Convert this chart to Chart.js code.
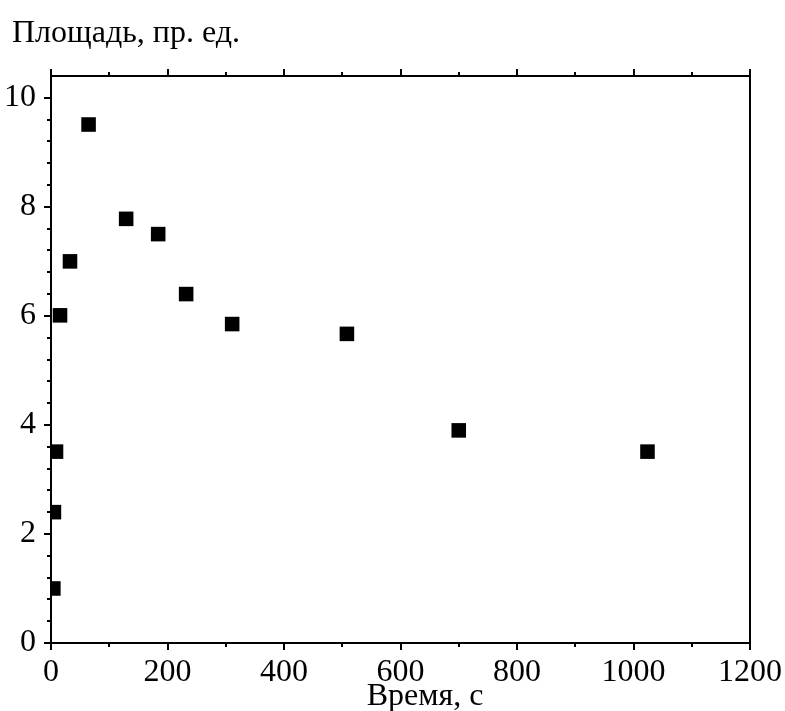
<!DOCTYPE html>
<html><head><meta charset="utf-8">
<script src="https://cdn.jsdelivr.net/npm/chart.js@4/dist/chart.umd.min.js"></script>
<style>html,body{margin:0;padding:0;background:#fff;overflow:hidden}</style>
</head><body>
<canvas id="c" width="785" height="711"></canvas>
<script>
// Data
const timeSec = [4, 5, 8.6, 15.5, 32.6, 64.5, 129, 184, 232, 311, 508, 700, 1024];
const areaVal = [1.0, 2.4, 3.51, 6.01, 7.0, 9.51, 7.78, 7.5, 6.4, 5.85, 5.67, 3.9, 3.51];
const xTickVals = [0, 200, 400, 600, 800, 1000, 1200];
const yTickVals = [0, 2, 4, 6, 8, 10];
const xMinorStep = 100;
const yMinorStep = 0.4;
const yTitle = 'Площадь, пр. ед.';
const xTitle = 'Время, с';

const FONT = '"Liberation Serif", "Times New Roman", serif';

const framePlugin = {
  id: 'frameTicks',
  afterDraw(chart) {
    const {ctx, chartArea: a, scales: {x, y}} = chart;
    ctx.save();
    ctx.strokeStyle = '#000';
    ctx.lineWidth = 2;
    ctx.lineCap = 'butt';
    ctx.beginPath();
    ctx.rect(a.left, a.top, a.right - a.left, a.bottom - a.top);
    for (let v = x.min; v <= x.max + 1e-9; v += xMinorStep) {
      const px = Math.round(x.getPixelForValue(v));
      const major = xTickVals.includes(v);
      const len = major ? 7 : 4;
      ctx.moveTo(px, a.bottom); ctx.lineTo(px, a.bottom + len);
      ctx.moveTo(px, a.top); ctx.lineTo(px, a.top - len);
    }
    for (let i = 0; i * yMinorStep <= 10 + 1e-9; i++) {
      const v = +(i * yMinorStep).toFixed(2);
      const py = Math.round(y.getPixelForValue(v));
      const major = yTickVals.includes(v);
      const len = major ? 7 : 4;
      ctx.moveTo(a.left, py); ctx.lineTo(a.left - len, py);
    }
    ctx.stroke();
    ctx.fillStyle = '#000';
    ctx.font = '32px ' + FONT;
    ctx.textAlign = 'left';
    ctx.textBaseline = 'alphabetic';
    ctx.fillText(yTitle, 12, 42);
    ctx.textAlign = 'center';
    ctx.fillText(xTitle, 425, 705);
    ctx.restore();
  }
};

new Chart(document.getElementById('c'), {
  type: 'scatter',
  data: {
    datasets: [{
      data: timeSec.map((t, i) => ({x: t, y: areaVal[i]})),
      pointStyle: 'rect',
      pointRadius: 10.3,
      pointHoverRadius: 10.3,
      backgroundColor: '#000',
      borderColor: '#000',
      borderWidth: 0,
      clip: 0
    }]
  },
  options: {
    responsive: false,
    animation: false,
    devicePixelRatio: 1,
    layout: {padding: {top: 76, right: 35, left: 0, bottom: 0}},
    plugins: {legend: {display: false}, tooltip: {enabled: false}, title: {display: false}},
    scales: {
      x: {
        type: 'linear', position: 'bottom', min: 0, max: 1200,
        afterBuildTicks: s => { s.ticks = xTickVals.map(v => ({value: v})); },
        afterFit: s => { s.height = 68; },
        grid: {display: false},
        border: {display: false},
        ticks: {color: '#000', font: {family: FONT, size: 32}, padding: 2, maxRotation: 0, autoSkip: false,
                callback: v => String(v)}
      },
      y: {
        type: 'linear', position: 'left', min: 0, max: 10.4,
        afterBuildTicks: s => { s.ticks = yTickVals.map(v => ({value: v})); },
        afterFit: s => { s.width = 51; },
        grid: {display: false},
        border: {display: false},
        ticks: {color: '#000', font: {family: FONT, size: 32}, padding: 7, callback: v => String(v)}
      }
    }
  },
  plugins: [framePlugin]
});
</script>
</body></html>
